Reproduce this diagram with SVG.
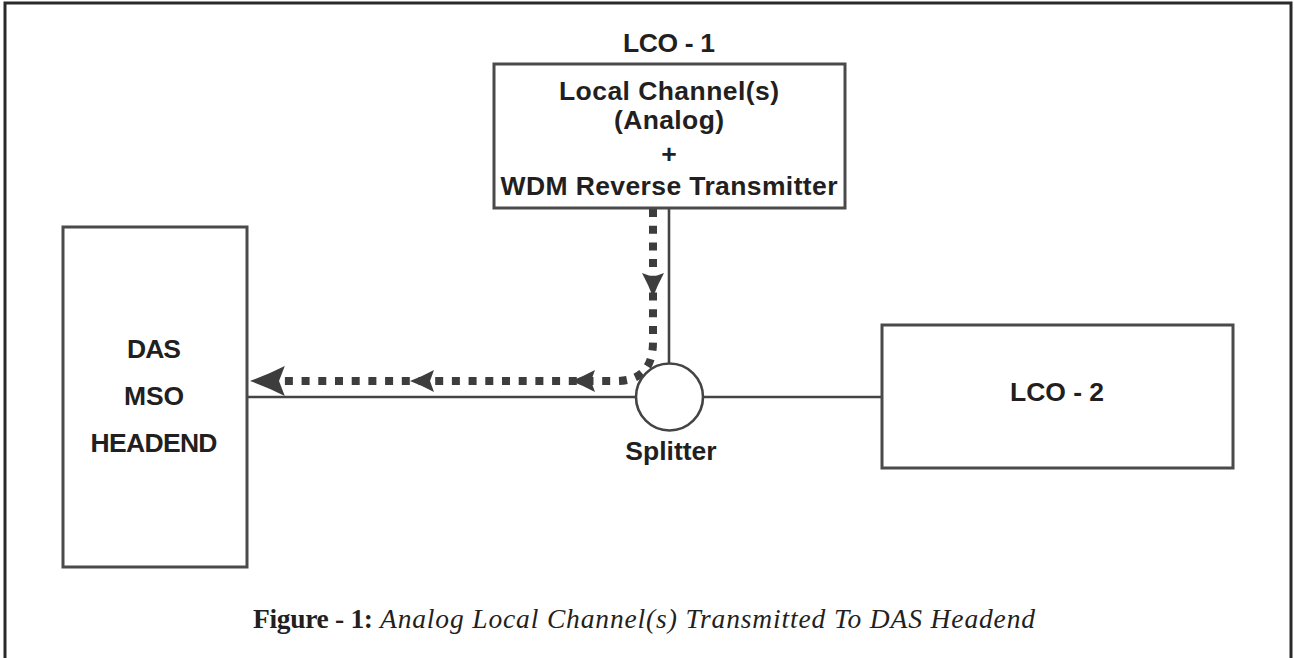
<svg xmlns="http://www.w3.org/2000/svg" xmlns:xlink="http://www.w3.org/1999/xlink" width="1294" height="658" viewBox="0 0 1294 658">
  <style>
    .box { fill: #ffffff; stroke: #4a4a4a; stroke-width: 3; }
    .wire { fill: none; stroke: #444444; stroke-width: 2.6; }
    .lbl { font-family: "Liberation Sans", Arial, sans-serif; font-weight: bold; font-size: 26.5px; fill: #231f20; text-anchor: middle; }
    .cap { font-family: "Liberation Serif", "Times New Roman", serif; font-size: 27.5px; fill: #231f20; }
    .flow { fill: none; stroke: #3d3d3d; stroke-width: 8; stroke-dasharray: 8 8.7; }
    .ah { fill: #3d3d3d; }
  </style>
  <defs>
    <path id="arrowhead" d="M0,0 Q13,-5 24,-11 L20,0 L24,11 Q13,5 0,0 Z"/>
  </defs>
  <rect width="1294" height="658" fill="#ffffff"/>
  <g id="frame">
    <path d="M5,660 V3 H1291 V660" fill="none" stroke="#2a2a2a" stroke-width="3"/>
  </g>
  <g id="connectors">
    <line class="wire" x1="247" y1="397" x2="636" y2="397"/>
    <line class="wire" x1="703" y1="397" x2="882" y2="397"/>
    <line class="wire" x1="669" y1="208" x2="669" y2="363"/>
    <path class="flow" d="M653,209 V342 Q653,381 616,381 H262"/>
    <use class="ah" xlink:href="#arrowhead" href="#arrowhead" transform="translate(250,381) scale(1.45,1.36)"/>
    <use class="ah" xlink:href="#arrowhead" href="#arrowhead" transform="translate(410,381)"/>
    <use class="ah" xlink:href="#arrowhead" href="#arrowhead" transform="translate(571,381)"/>
    <use class="ah" xlink:href="#arrowhead" href="#arrowhead" transform="translate(653,297) rotate(-90)"/>
  </g>
  <g id="lco1">
    <text class="lbl" x="669" y="52" textLength="92">LCO - 1</text>
    <rect class="box" x="494" y="64" width="351" height="144"/>
    <text class="lbl" x="669" y="100" textLength="220">Local Channel(s)</text>
    <text class="lbl" x="669" y="129" textLength="110">(Analog)</text>
    <text class="lbl" x="669" y="163">+</text>
    <text class="lbl" x="669" y="195" textLength="337">WDM Reverse Transmitter</text>
  </g>
  <g id="das">
    <rect class="box" x="63" y="227" width="184" height="340"/>
    <text class="lbl" x="154" y="358" textLength="54">DAS</text>
    <text class="lbl" x="154" y="405" textLength="60">MSO</text>
    <text class="lbl" x="154" y="452" textLength="127">HEADEND</text>
  </g>
  <g id="splitter">
    <circle cx="669.5" cy="397" r="33.5" fill="#ffffff" stroke="#444444" stroke-width="2.6"/>
    <text class="lbl" x="671" y="460">Splitter</text>
  </g>
  <g id="lco2">
    <rect class="box" x="882" y="325" width="351" height="143"/>
    <text class="lbl" x="1057" y="401" textLength="94">LCO - 2</text>
  </g>
  <g id="caption">
    <text class="cap" x="253" y="628"><tspan font-weight="bold" textLength="120">Figure - 1:</tspan><tspan font-style="italic" x="380" textLength="655">Analog Local Channel(s) Transmitted To DAS Headend</tspan></text>
  </g>
</svg>
